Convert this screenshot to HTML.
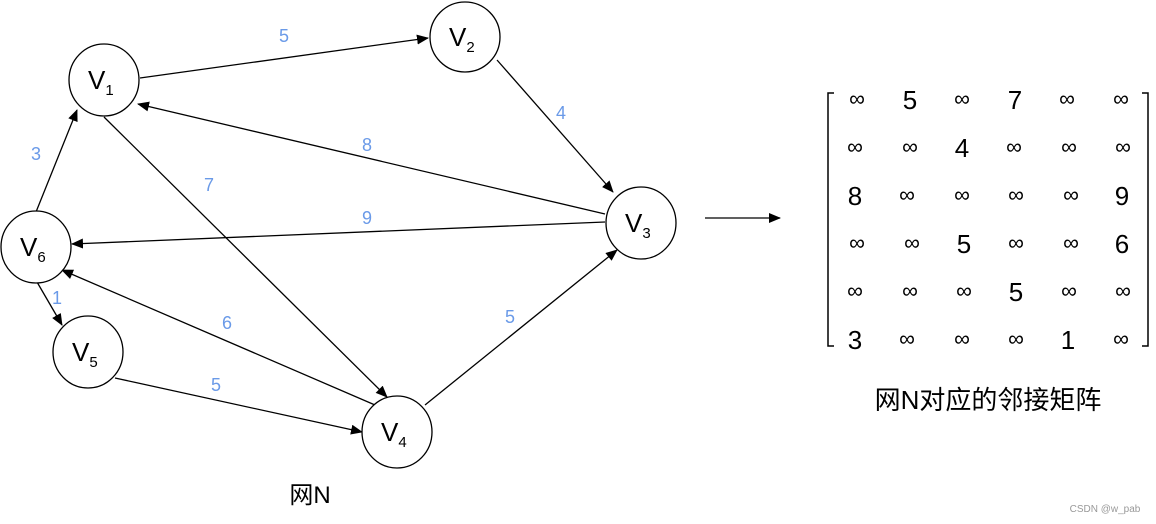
<!DOCTYPE html>
<html><head><meta charset="utf-8"><style>
html,body{margin:0;padding:0;background:#fff;width:1156px;height:524px;overflow:hidden}
</style></head><body>
<svg width="1156" height="524" viewBox="0 0 1156 524" xmlns="http://www.w3.org/2000/svg" font-family="Liberation Sans, Noto Sans CJK SC, sans-serif">
<defs><marker id="a" markerWidth="12" markerHeight="10" refX="11" refY="5" orient="auto" markerUnits="userSpaceOnUse"><path d="M0,0 L12,5 L0,10 Z" fill="#000"/></marker></defs>
<g stroke="#000" stroke-width="1.3" fill="none" marker-end="url(#a)">
<line x1="140" y1="78" x2="428" y2="38"/>
<line x1="497" y1="60" x2="613" y2="192"/>
<line x1="605" y1="214" x2="138" y2="104"/>
<line x1="605" y1="222" x2="72" y2="244"/>
<line x1="104" y1="117" x2="387" y2="397"/>
<line x1="36" y1="212" x2="77" y2="110"/>
<line x1="37" y1="282" x2="62" y2="325"/>
<line x1="375" y1="405" x2="62" y2="270"/>
<line x1="115" y1="378" x2="362" y2="432"/>
<line x1="425" y1="405" x2="617" y2="250"/>
<line x1="705" y1="218" x2="780" y2="218"/>
</g>
<g stroke="#000" stroke-width="1.3" fill="#fff">
<ellipse cx="104" cy="80" rx="35" ry="36"/>
<ellipse cx="465" cy="37" rx="35" ry="35"/>
<ellipse cx="641" cy="223" rx="35" ry="36"/>
<ellipse cx="397" cy="432" rx="35" ry="36"/>
<ellipse cx="88" cy="352" rx="35" ry="36"/>
<ellipse cx="36" cy="247" rx="35" ry="36"/>
</g>
<g font-size="26" fill="#000">
<text x="88" y="89">V<tspan font-size="15" dy="6">1</tspan></text>
<text x="449" y="46">V<tspan font-size="15" dy="6">2</tspan></text>
<text x="625" y="232">V<tspan font-size="15" dy="6">3</tspan></text>
<text x="381" y="441">V<tspan font-size="15" dy="6">4</tspan></text>
<text x="72" y="361">V<tspan font-size="15" dy="6">5</tspan></text>
<text x="20" y="256">V<tspan font-size="15" dy="6">6</tspan></text>
</g>
<g font-size="18" fill="#6a9ae8" text-anchor="middle">
<text x="284" y="42">5</text><text x="561" y="119">4</text><text x="367" y="151">8</text>
<text x="209" y="191">7</text><text x="36" y="160">3</text><text x="367" y="224">9</text>
<text x="57" y="304">1</text><text x="227" y="329">6</text><text x="510" y="323">5</text>
<text x="216" y="391">5</text>
</g>
<text x="310" y="503" font-size="24" text-anchor="middle">网N</text>
<path d="M834,93 H828 V346 H834 M1142,93 H1148 V346 H1142" stroke="#000" stroke-width="1.5" fill="none"/>
<g text-anchor="middle" fill="#000">
<g font-size="26">
<text x="910" y="109">5</text><text x="1015" y="109">7</text>
<text x="962" y="157">4</text>
<text x="855" y="205">8</text><text x="1122" y="205">9</text>
<text x="964" y="253">5</text><text x="1122" y="253">6</text>
<text x="1016" y="301">5</text>
<text x="855" y="349">3</text><text x="1068" y="349">1</text>
</g>
<g font-size="22">
<text x="857" y="106">∞</text><text x="962" y="106">∞</text><text x="1067" y="106">∞</text><text x="1121" y="106">∞</text>
<text x="855" y="154">∞</text><text x="910" y="154">∞</text><text x="1014" y="154">∞</text><text x="1069" y="154">∞</text><text x="1123" y="154">∞</text>
<text x="907" y="202">∞</text><text x="962" y="202">∞</text><text x="1016" y="202">∞</text><text x="1071" y="202">∞</text>
<text x="857" y="250">∞</text><text x="912" y="250">∞</text><text x="1016" y="250">∞</text><text x="1071" y="250">∞</text>
<text x="855" y="298">∞</text><text x="910" y="298">∞</text><text x="964" y="298">∞</text><text x="1069" y="298">∞</text><text x="1123" y="298">∞</text>
<text x="907" y="346">∞</text><text x="962" y="346">∞</text><text x="1016" y="346">∞</text><text x="1121" y="346">∞</text>
</g>
</g>
<text x="988" y="409" font-size="26" text-anchor="middle">网N对应的邻接矩阵</text>
<text x="1105" y="512" font-size="10" fill="#999" text-anchor="middle">CSDN @w_pab</text>
</svg>
</body></html>
